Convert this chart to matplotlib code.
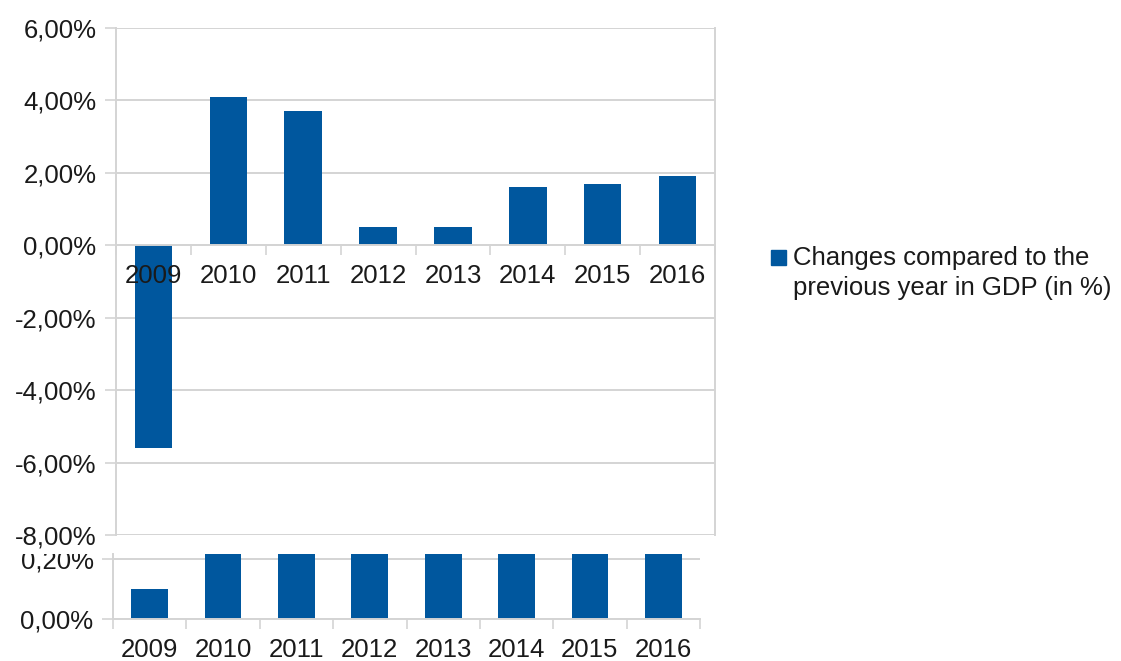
"""Year-over-year GDP change bar chart with a zoomed strip of the low end."""

import matplotlib

matplotlib.use("Agg")
from matplotlib import pyplot as plt
from matplotlib.patches import Rectangle
from matplotlib.transforms import Bbox, TransformedBbox, blended_transform_factory

YEARS = ["2009", "2010", "2011", "2012", "2013", "2014", "2015", "2016"]
GDP_CHANGE = [-5.6, 4.1, 3.7, 0.5, 0.5, 1.6, 1.7, 1.9]
STRIP_VALUES = [0.1, 4.1, 3.7, 0.5, 0.5, 1.6, 1.7, 1.9]
MAIN_TICKS = [-8, -6, -4, -2, 0, 2, 4, 6]
STRIP_TICKS = [0.0, 0.2]
LEGEND_LABEL = "Changes compared to the\nprevious year in GDP (in %)"

BAR_COLOR = "#00579e"
GRID_COLOR = "#d4d4d4"
TEXT_COLOR = "#1a1a1a"
FONT_SIZE = 18.5

W, H = 1121, 661
plt.rcParams["font.family"] = ["Liberation Sans", "DejaVu Sans"]


def pct(value: float) -> str:
    return f"{value:.2f}".replace(".", ",") + "%"


def fig_rect(x0, y0, x1, y1):
    """Pixel box (top-left origin) to figure-fraction rect."""
    return [x0 / W, (H - y1) / H, (x1 - x0) / W, (y1 - y0) / H]


def style_axis(axis, ticks, ylim):
    n = len(YEARS)
    axis.set_xlim(0, n)
    axis.set_ylim(*ylim)
    axis.set_yticks(ticks)
    axis.set_yticklabels([pct(t) for t in ticks])
    axis.set_xticks(range(n + 1))
    axis.set_xticklabels([])
    axis.tick_params(axis="y", direction="out", length=8, width=1.2, color=GRID_COLOR,
                     pad=6, labelsize=FONT_SIZE, labelcolor=TEXT_COLOR)
    axis.tick_params(axis="x", direction="out", length=7.5, width=1.2, color=GRID_COLOR)
    axis.yaxis.grid(True, color=GRID_COLOR, linewidth=1.4)
    axis.set_axisbelow(True)
    for spine in axis.spines.values():
        spine.set_color(GRID_COLOR)
        spine.set_linewidth(1.4)
    axis.spines["bottom"].set_position(("data", 0))
    axis.spines["top"].set_visible(False)


def year_labels(axis, offset):
    trans = blended_transform_factory(axis.transData, axis.transData)
    for i, year in enumerate(YEARS):
        axis.annotate(year, (i + 0.5, 0), xycoords=trans, xytext=(0, offset),
                      textcoords="offset points", ha="center", va="center",
                      fontsize=FONT_SIZE, color=TEXT_COLOR, zorder=5,
                      annotation_clip=False)


fig = plt.figure(figsize=(W / 100, H / 100), dpi=100)

# main panel
ax = fig.add_axes(fig_rect(116, 28, 715, 535))
style_axis(ax, MAIN_TICKS, (-8, 6))
ax.bar([i + 0.5 for i in range(len(YEARS))], GDP_CHANGE, width=0.5, color=BAR_COLOR, zorder=2)
year_labels(ax, -22)

# low-end strip, cut off at its top edge
strip = fig.add_axes(fig_rect(113, 554, 700, 619))
style_axis(strip, STRIP_TICKS, (0, 0.2167))
strip.spines["right"].set_visible(False)
strip.bar([i + 0.5 for i in range(len(YEARS))], STRIP_VALUES, width=0.5, color=BAR_COLOR, zorder=2)
year_labels(strip, -22.5)
cut = TransformedBbox(Bbox([[0, 0], [1, (H - 554) / H]]), fig.transFigure)
for label in strip.get_yticklabels():
    label.set_clip_box(cut)
    label.set_clip_on(True)

# legend
fig.patches.append(Rectangle(((771) / W, (H - 265) / H), 15 / W, 15 / H,
                             transform=fig.transFigure, color=BAR_COLOR))
fig.text(793 / W, (H - 246) / H, LEGEND_LABEL, fontsize=FONT_SIZE, color=TEXT_COLOR,
         ha="left", va="top", linespacing=1.32)

fig.savefig("out.png", dpi=100)
